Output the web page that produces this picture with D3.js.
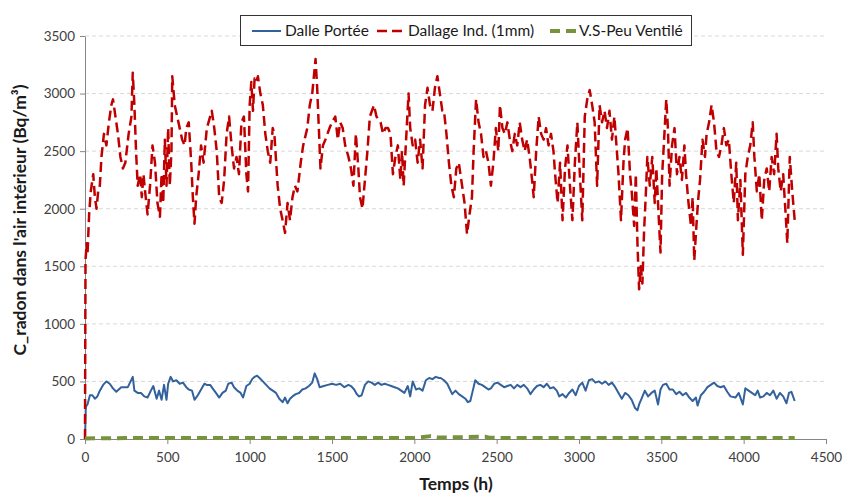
<!DOCTYPE html>
<html>
<head>
<meta charset="utf-8">
<script src="https://cdn.jsdelivr.net/npm/d3@7"></script>
<style>
    body { margin: 0; background: #fff; }
    svg { display: block; font-family: Lato, "Liberation Sans", sans-serif; }
    .axis path, .axis line { stroke: #868686; }
    .axis text { fill: #404040; font-size: 13.5px; }
    .grid line { stroke: #d9d9d9; stroke-dasharray: 4,3; }
    .title { font-weight: bold; font-size: 17.5px; fill: #1a1a1a; }
    .legend text { font-size: 15.5px; fill: #1a1a1a; }
</style>
</head>
<body>
<div id="view"></div>
<script>

var xTicks = [0, 500, 1000, 1500, 2000, 2500, 3000, 3500, 4000, 4500];
var yTicks = [0, 500, 1000, 1500, 2000, 2500, 3000, 3500];

var seriesNames = ["Dalle Portée", "Dallage Ind. (1mm)", "V.S-Peu Ventilé"];

// [temps (h), C_radon (Bq/m3)]
var dalle = [
    [0, 0], [5, 280], [15, 300], [30, 380], [45, 380], [60, 350], [75, 370], [90, 420], [110, 470], [130, 500],
    [150, 480], [170, 440], [190, 410], [220, 450], [260, 450], [290, 540], [300, 420], [320, 400], [340, 400], [360, 370],
    [380, 360], [400, 420], [415, 460], [435, 350], [450, 420], [465, 340], [480, 470], [495, 340], [505, 480], [520, 540],
    [535, 500], [555, 510], [575, 480], [595, 490], [615, 450], [630, 430], [650, 420], [665, 340], [685, 380], [705, 430],
    [725, 480], [740, 470], [760, 470], [775, 440], [795, 400], [815, 360], [835, 400], [855, 420], [870, 480], [890, 490],
    [905, 450], [925, 420], [945, 400], [960, 360], [980, 460], [1000, 480], [1015, 520], [1030, 540], [1045, 550], [1060, 530],
    [1080, 500], [1100, 470], [1120, 440], [1140, 420], [1160, 400], [1180, 350], [1200, 320], [1215, 360], [1230, 310], [1245, 350],
    [1260, 370], [1280, 390], [1300, 400], [1320, 430], [1340, 440], [1360, 460], [1380, 490], [1395, 570], [1410, 520], [1425, 450],
    [1450, 460], [1475, 470], [1500, 480], [1525, 470], [1550, 480], [1575, 450], [1600, 470], [1615, 460], [1635, 430], [1650, 390],
    [1665, 370], [1680, 380], [1700, 470], [1720, 500], [1740, 490], [1760, 470], [1780, 490], [1800, 470], [1820, 480], [1840, 470],
    [1860, 460], [1880, 450], [1900, 440], [1920, 420], [1940, 400], [1960, 460], [1975, 370], [1990, 500], [2010, 430], [2030, 440],
    [2050, 420], [2070, 510], [2090, 530], [2110, 520], [2130, 540], [2150, 530], [2160, 530], [2180, 510], [2200, 480], [2230, 390],
    [2250, 420], [2270, 390], [2290, 370], [2310, 350], [2325, 320], [2340, 330], [2355, 420], [2370, 510], [2390, 480], [2410, 470],
    [2430, 450], [2450, 430], [2465, 440], [2485, 480], [2505, 490], [2525, 470], [2545, 450], [2565, 460], [2585, 470], [2605, 440],
    [2625, 470], [2645, 450], [2665, 470], [2685, 440], [2705, 390], [2725, 430], [2745, 460], [2765, 470], [2785, 450], [2805, 480],
    [2825, 440], [2845, 450], [2865, 420], [2880, 370], [2900, 390], [2920, 360], [2940, 400], [2960, 430], [2980, 380], [3000, 460],
    [3020, 490], [3040, 420], [3060, 510], [3080, 520], [3100, 490], [3120, 500], [3140, 480], [3160, 500], [3180, 470], [3200, 490],
    [3220, 450], [3240, 400], [3260, 350], [3280, 400], [3300, 380], [3320, 340], [3340, 270], [3355, 250], [3365, 300], [3380, 350],
    [3400, 420], [3420, 370], [3440, 400], [3460, 420], [3480, 300], [3495, 430], [3510, 470], [3530, 480], [3550, 430], [3570, 430],
    [3590, 390], [3610, 410], [3630, 380], [3650, 400], [3670, 360], [3690, 330], [3710, 360], [3720, 290], [3740, 380], [3760, 410],
    [3780, 450], [3800, 470], [3820, 490], [3840, 460], [3860, 450], [3880, 460], [3900, 410], [3920, 370], [3950, 360], [3970, 400],
    [3995, 300], [4010, 440], [4030, 420], [4050, 400], [4070, 380], [4085, 420], [4100, 360], [4120, 370], [4140, 400], [4160, 380],
    [4180, 420], [4200, 350], [4220, 400], [4240, 370], [4260, 310], [4275, 400], [4290, 410], [4310, 330],
];

var dallage = [
    [0, 0], [3, 1550], [10, 1700], [15, 1600], [25, 1950], [35, 2150], [45, 2250], [50, 2300], [60, 2100], [70, 2000],
    [80, 2150], [90, 2200], [100, 2450], [115, 2650], [130, 2550], [145, 2750], [160, 2900], [170, 2950], [185, 2800], [200, 2650],
    [215, 2450], [230, 2350], [245, 2400], [265, 2650], [282, 2800], [290, 3180], [300, 2900], [310, 2500], [320, 2200], [335, 2300],
    [345, 2100], [355, 2300], [365, 2150], [380, 1950], [395, 2200], [410, 2550], [425, 2400], [440, 2050], [455, 1930], [465, 2300],
    [475, 2050], [485, 2600], [495, 2200], [505, 2700], [515, 2200], [525, 2500], [530, 3150], [545, 2900], [560, 2800], [575, 2700],
    [590, 2600], [605, 2550], [615, 2700], [630, 2750], [645, 2400], [655, 2100], [665, 1870], [675, 2100], [690, 2300], [705, 2550],
    [720, 2400], [740, 2700], [770, 2850], [785, 2700], [800, 2500], [815, 2100], [830, 2050], [845, 2250], [860, 2650], [875, 2800],
    [890, 2550], [905, 2350], [920, 2450], [935, 2300], [950, 2750], [965, 2800], [980, 2300], [990, 2150], [1000, 2900], [1010, 3100],
    [1020, 2850], [1030, 3130], [1040, 3100], [1050, 3150], [1065, 3000], [1080, 2900], [1095, 2650], [1110, 2500], [1125, 2400], [1140, 2700],
    [1150, 2650], [1170, 2200], [1185, 2000], [1200, 1900], [1215, 1790], [1230, 2050], [1245, 1900], [1260, 2100], [1275, 2200], [1290, 2150],
    [1310, 2400], [1325, 2550], [1350, 2700], [1365, 2900], [1380, 3000], [1390, 3150], [1400, 3300], [1410, 3050], [1420, 2700], [1430, 2350],
    [1445, 2550], [1460, 2600], [1485, 2700], [1500, 2750], [1520, 2800], [1535, 2600], [1550, 2750], [1565, 2700], [1580, 2550], [1600, 2450],
    [1615, 2350], [1630, 2200], [1645, 2650], [1660, 2350], [1670, 2100], [1685, 2000], [1700, 2250], [1715, 2500], [1730, 2800], [1755, 2900],
    [1770, 2800], [1795, 2750], [1810, 2650], [1825, 2700], [1840, 2700], [1855, 2650], [1870, 2300], [1885, 2450], [1900, 2550], [1915, 2250],
    [1925, 2500], [1935, 2200], [1950, 2600], [1965, 3000], [1975, 2700], [1990, 2550], [2005, 2600], [2020, 2400], [2035, 2600], [2050, 2350],
    [2065, 2900], [2080, 3050], [2095, 2900], [2110, 2850], [2125, 3050], [2140, 3150], [2155, 3000], [2170, 2850], [2180, 2850], [2195, 2650],
    [2210, 2400], [2225, 2200], [2240, 2100], [2255, 2350], [2270, 2400], [2290, 2200], [2305, 2050], [2320, 1780], [2335, 1950], [2350, 2100],
    [2360, 2500], [2375, 2950], [2390, 2750], [2405, 2650], [2420, 2450], [2435, 2500], [2450, 2400], [2465, 2200], [2480, 2400], [2495, 2700],
    [2510, 2500], [2520, 2900], [2535, 2700], [2550, 2650], [2565, 2750], [2580, 2600], [2595, 2500], [2610, 2650], [2625, 2550], [2640, 2750],
    [2655, 2600], [2670, 2500], [2685, 2600], [2700, 2450], [2715, 2250], [2725, 2100], [2740, 2500], [2755, 2800], [2770, 2650], [2785, 2600],
    [2800, 2700], [2815, 2550], [2830, 2650], [2845, 2500], [2855, 2300], [2870, 2050], [2885, 2400], [2900, 1900], [2915, 2350], [2930, 2550],
    [2945, 2200], [2960, 1900], [2975, 2400], [2990, 2750], [3005, 2300], [3020, 1900], [3035, 2800], [3050, 2950], [3065, 3030], [3080, 2900],
    [3095, 2750], [3110, 2200], [3125, 2900], [3140, 2750], [3155, 2850], [3170, 2700], [3185, 2850], [3200, 2600], [3215, 2800], [3230, 2500],
    [3240, 2300], [3255, 1900], [3270, 2400], [3280, 2600], [3295, 2700], [3310, 2300], [3320, 2150], [3335, 1850], [3345, 2300], [3355, 1700],
    [3365, 1300], [3375, 1500], [3385, 1350], [3395, 1800], [3405, 2100], [3415, 2450], [3430, 2200], [3445, 2450], [3460, 2050], [3470, 2350],
    [3485, 1900], [3495, 1620], [3505, 2300], [3515, 2550], [3530, 2950], [3540, 2700], [3550, 2200], [3565, 2550], [3580, 2700], [3595, 2300],
    [3610, 2450], [3625, 2250], [3640, 2550], [3650, 2300], [3665, 2050], [3680, 1850], [3690, 2100], [3700, 1550], [3715, 1900], [3725, 2100],
    [3735, 2250], [3750, 2600], [3765, 2450], [3775, 2650], [3790, 2750], [3805, 2900], [3820, 2750], [3835, 2500], [3850, 2450], [3865, 2550],
    [3880, 2700], [3895, 2550], [3910, 2600], [3925, 2300], [3940, 2050], [3955, 2400], [3965, 1900], [3980, 2250], [3995, 1600], [4010, 2300],
    [4025, 2450], [4040, 2550], [4055, 2750], [4065, 2450], [4080, 2150], [4095, 2300], [4110, 1900], [4125, 2250], [4140, 2350], [4155, 2150],
    [4170, 2450], [4185, 2300], [4200, 2650], [4210, 2350], [4225, 2150], [4240, 2300], [4255, 1950], [4265, 1700], [4280, 2450], [4295, 2150],
    [4310, 1900],
];

var vsPeuVentile = [
    [0, 5], [250, 8], [500, 8], [1000, 8], [1500, 8], [2000, 10], [2100, 25], [2150, 12], [2430, 20], [2460, 10],
    [3000, 8], [3500, 8], [4000, 8], [4310, 8],
];

var chart = {
    width: 843,
    height: 494,
    left: 85,
    right: 826,
    top: 36,
    bottom: 439,
};

var styles = [
    {color: "#33619c", width: 2, dash: null},
    {color: "#c00000", width: 2.5, dash: "10,5"},
    {color: "#77933c", width: 4, dash: "10,6"},
];

var x = d3.scaleLinear().domain([0, 4500]).range([chart.left, chart.right]);
var y = d3.scaleLinear().domain([0, 3500]).range([chart.bottom, chart.top]);
var fmt = d3.format("d");

var svg = d3.select("#view").append("svg")
    .attr("width", chart.width)
    .attr("height", chart.height)
;

svg.append("g")
    .attr("class", "grid")
    .selectAll("line")
    .data(yTicks.filter(d => d > 0))
    .enter()
    .append("line")
    .attr("x1", chart.left)
    .attr("x2", chart.right)
    .attr("y1", d => y(d))
    .attr("y2", d => y(d))
;

svg.append("g")
    .attr("class", "axis")
    .attr("transform", `translate(0, ${chart.bottom})`)
    .call(d3.axisBottom(x).tickValues(xTicks).tickFormat(fmt).tickSize(5).tickSizeOuter(0).tickPadding(8))
;

svg.append("g")
    .attr("class", "axis")
    .attr("transform", `translate(${chart.left}, 0)`)
    .call(d3.axisLeft(y).tickValues(yTicks).tickFormat(fmt).tickSize(5).tickSizeOuter(0).tickPadding(5))
;

svg.selectAll(".axis text").style("font-family", "Lato, sans-serif");

var line = d3.line()
    .x(d => x(d[0]))
    .y(d => y(d[1]))
;

svg.append("g")
    .attr("class", "series")
    .selectAll("path")
    .data([dalle, dallage, vsPeuVentile])
    .enter()
    .append("path")
    .attr("fill", "none")
    .attr("stroke", (d, i) => styles[i].color)
    .attr("stroke-width", (d, i) => styles[i].width)
    .attr("stroke-dasharray", (d, i) => styles[i].dash)
    .attr("stroke-linejoin", "round")
    .attr("d", line)
;

// titres des axes
svg.append("text")
    .attr("class", "title")
    .attr("x", 456)
    .attr("y", 490)
    .attr("text-anchor", "middle")
    .text("Temps (h)")
;

svg.append("text")
    .attr("class", "title")
    .attr("transform", "translate(26, 220) rotate(-90)")
    .attr("text-anchor", "middle")
    .text("C_radon dans l'air intérieur (Bq/m³)")
;

// légende
var legend = svg.append("g").attr("class", "legend");
legend.append("rect")
    .attr("x", 240.5)
    .attr("y", 15.5)
    .attr("width", 451)
    .attr("height", 30)
    .attr("fill", "#fff")
    .attr("stroke", "#333")
;

var legendItems = [
    {sx: 252, tx: 285},
    {sx: 377, tx: 408},
    {sx: 550, tx: 579},
];

var items = legend.selectAll(".item")
    .data(seriesNames)
    .enter()
    .append("g")
    .attr("class", "item")
;
items.append("line")
    .attr("x1", (d, i) => legendItems[i].sx)
    .attr("x2", (d, i) => legendItems[i].sx + 29)
    .attr("y1", 31)
    .attr("y2", 31)
    .attr("stroke", (d, i) => styles[i].color)
    .attr("stroke-width", (d, i) => styles[i].width)
    .attr("stroke-dasharray", (d, i) => styles[i].dash)
;
items.append("text")
    .attr("x", (d, i) => legendItems[i].tx)
    .attr("y", 36)
    .text(d => d)
;

</script>
</body>
</html>
